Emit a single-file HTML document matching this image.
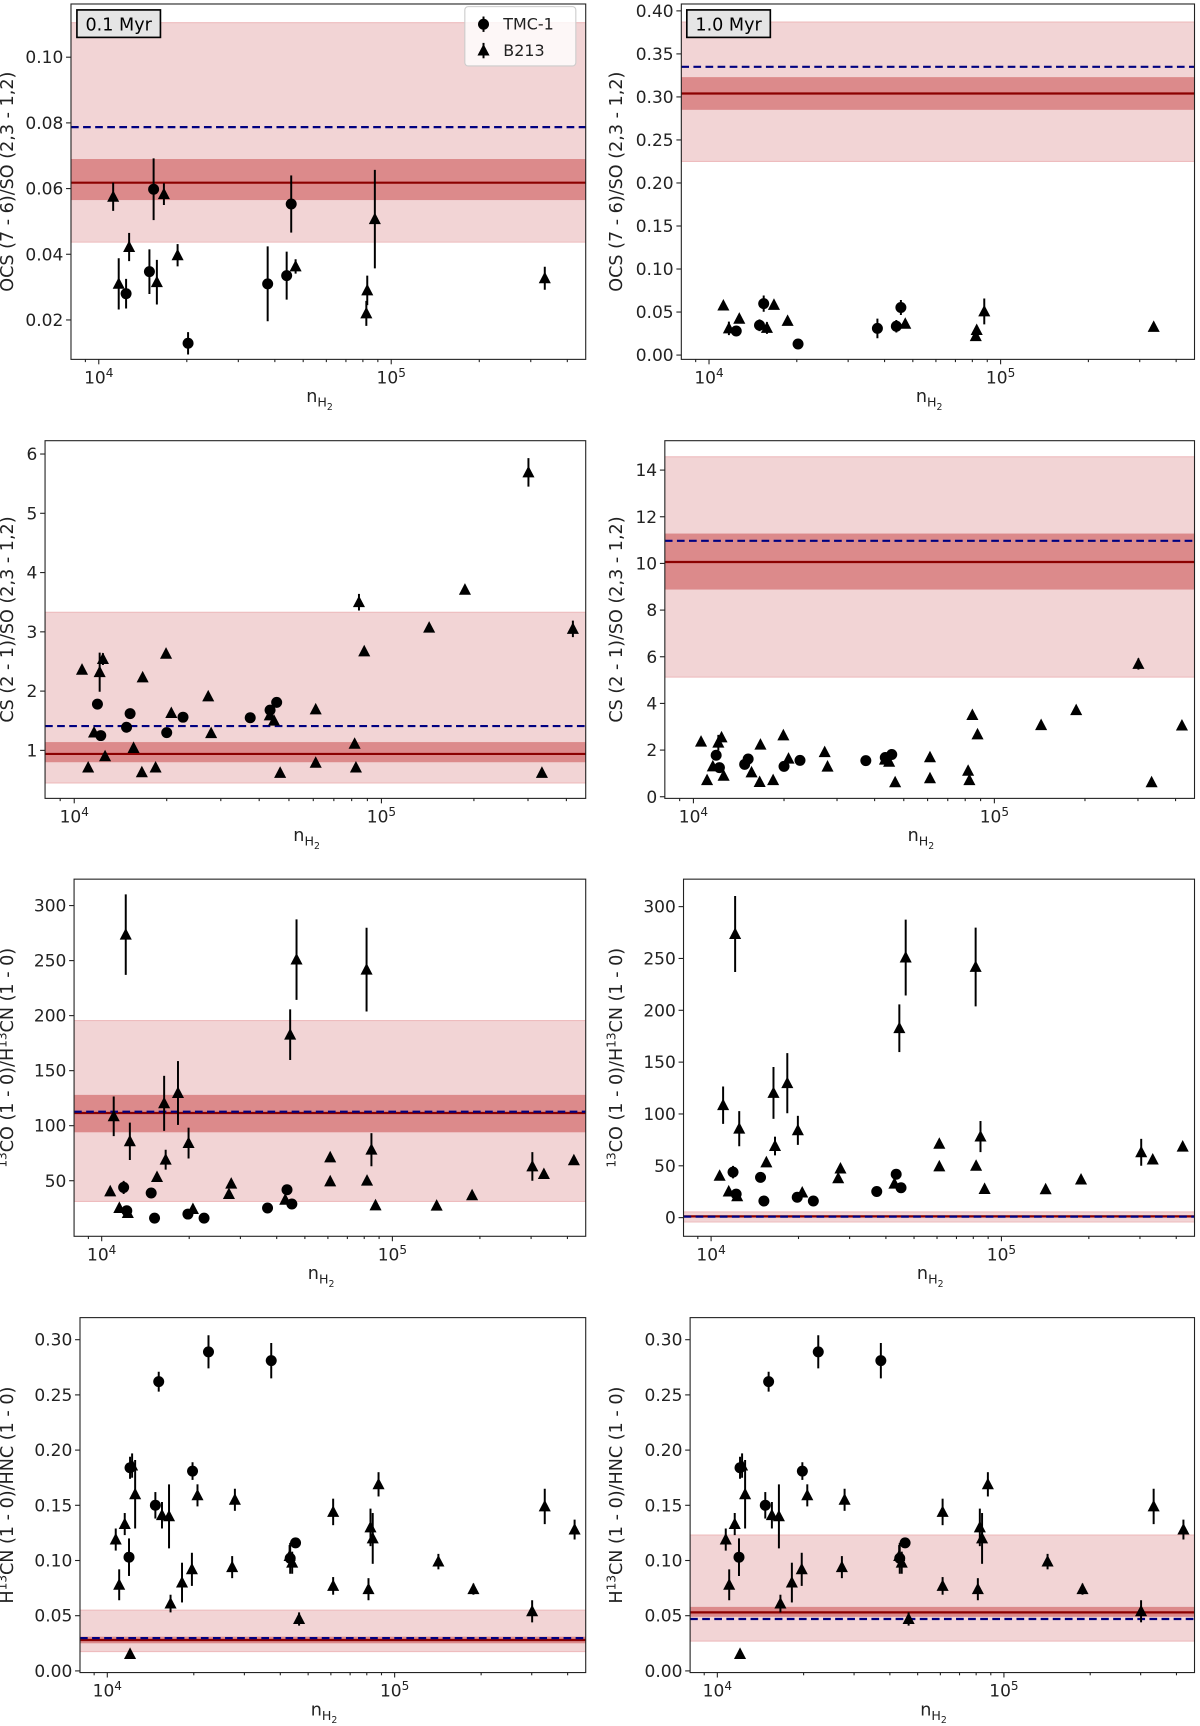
<!DOCTYPE html>
<html><head><meta charset="utf-8"><title>Ratios vs density</title>
<style>
html,body{margin:0;padding:0;background:#fff;}
svg{display:block;font-family:"DejaVu Sans","Liberation Sans",sans-serif;}
</style></head>
<body>
<svg id="fig" xmlns="http://www.w3.org/2000/svg" width="1200" height="1726" viewBox="0 0 1092 1570.6"></svg>
<script>
// ---------- data (row 1: OCS/SO) ----------
const nH2_r1 = [1.12e4,1.17e4,1.24e4,1.27e4,1.49e4,1.54e4,1.58e4,1.67e4,1.86e4,2.02e4,3.78e4,4.39e4,4.71e4,4.55e4,8.28e4,8.22e4,8.79e4,3.35e5];
const ratio_r1 = [0.0575,0.031,0.028,0.0422,0.0347,0.0598,0.0315,0.0583,0.0397,0.0129,0.031,0.0335,0.0363,0.0553,0.029,0.022,0.0507,0.0327];
const err_r1 = [0.0043,0.0078,0.0045,0.0043,0.0068,0.0094,0.0068,0.0033,0.0034,0.0034,0.0114,0.0073,0.0022,0.0087,0.0045,0.0038,0.015,0.0035];
const src_r1 = ["T","T","C","T","C","C","T","T","T","C","C","C","T","C","T","T","T","T"];
// ---------- row 2: CS/SO ----------
const nH2_r2 = [1.06e4,1.11e4,1.16e4,1.19e4,1.21e4,1.24e4,1.22e4,1.26e4,1.48e4,1.52e4,1.56e4,1.66e4,1.67e4,1.84e4,1.99e4,2.00e4,2.07e4,2.26e4,2.73e4,2.79e4,3.74e4,4.34e4,4.33e4,4.47e4,4.56e4,4.68e4,6.11e4,6.11e4,8.18e4,8.26e4,8.45e4,8.79e4,1.43e5,1.87e5,3.01e5,3.33e5,4.20e5];
const ratio_r2 = [2.36,0.71,1.30,1.78,2.32,2.54,1.25,0.90,1.39,1.62,1.04,0.63,2.23,0.71,2.63,1.30,1.63,1.56,1.91,1.29,1.55,1.68,1.59,1.50,1.81,0.62,1.69,0.79,1.11,0.71,3.50,2.67,3.07,3.71,5.69,0.62,3.05];
const err_r2 = [0.05,0.05,0.05,0.05,0.33,0.1,0.05,0.05,0.05,0.05,0.05,0.05,0.05,0.05,0.05,0.05,0.05,0.05,0.05,0.05,0.05,0.05,0.05,0.05,0.05,0.05,0.05,0.05,0.05,0.05,0.14,0.05,0.05,0.08,0.24,0.05,0.14];
const src_r2 = ["T","T","T","C","T","T","C","T","C","C","T","T","T","T","T","C","T","C","T","T","C","C","T","T","C","T","T","T","T","T","T","T","T","T","T","T","T"];
// ---------- row 3: 13CO/H13CN ----------
const nH2_r3 = [1.21e4,1.07e4,1.19e4,1.10e4,1.25e4,1.15e4,1.22e4,1.23e4,1.48e4,1.52e4,1.55e4,1.66e4,1.64e4,1.83e4,1.99e4,1.98e4,2.06e4,2.25e4,2.79e4,2.74e4,3.72e4,4.34e4,4.28e4,4.51e4,4.45e4,4.68e4,6.11e4,6.11e4,8.15e4,8.18e4,8.47e4,8.75e4,1.42e5,1.88e5,3.03e5,3.32e5,4.21e5];
const ratio_r3 = [273.6,40.3,43.9,108.5,85.8,25.2,22.7,20.6,38.8,16,53.3,69.1,120.3,129.7,84.2,19.7,24.2,16,47.3,37.9,25.2,41.8,32.7,28.8,182.7,250.9,71.2,49.4,241.8,50,78.2,27.6,27.3,36.7,63,56,68.5];
const err_r3 = [36.6,2,6,18,17,2,2,2,2,2,2,9,25,29,14,2,2,2,2,2,2,3,2,2,23,36.6,2,2,38,4,15,2,2,2,13,2,2];
const src_r3 = ["T","T","C","T","T","T","C","T","C","C","T","T","T","T","T","C","T","C","T","T","C","C","T","C","T","T","T","T","T","T","T","T","T","T","T","T","T"];
// ---------- row 4: H13CN/HNC ----------
const nH2_r4 = [1.07e4,1.15e4,1.19e4,1.10e4,1.20e4,1.22e4,1.25e4,1.20e4,1.51e4,1.47e4,1.55e4,1.64e4,1.66e4,1.82e4,1.97e4,1.98e4,2.06e4,2.25e4,2.78e4,2.72e4,3.72e4,4.52e4,4.33e4,4.40e4,4.31e4,4.65e4,6.11e4,6.11e4,8.11e4,8.24e4,8.39e4,8.79e4,1.42e5,1.88e5,3.01e5,3.33e5,4.23e5];
const ratio_r4 = [0.119,0.133,0.103,0.078,0.184,0.186,0.160,0.0153,0.262,0.150,0.141,0.140,0.061,0.080,0.092,0.181,0.159,0.289,0.155,0.094,0.281,0.116,0.102,0.098,0.104,0.047,0.144,0.077,0.074,0.130,0.120,0.169,0.099,0.074,0.054,0.149,0.128];
const err_r4 = [0.01,0.01,0.017,0.014,0.01,0.011,0.031,0.002,0.009,0.012,0.012,0.029,0.008,0.018,0.015,0.008,0.01,0.015,0.01,0.01,0.016,0.003,0.014,0.01,0.01,0.006,0.012,0.008,0.01,0.017,0.023,0.011,0.007,0.005,0.01,0.016,0.009];
const src_r4 = ["T","T","C","T","C","T","T","T","C","C","T","T","T","T","T","C","T","C","T","T","C","C","C","T","T","T","T","T","T","T","T","T","T","T","T","T","T"];
// ---------- model values per panel (P1..P8) ----------
const modelMean = [0.0618,0.304,0.94,10.06,111.5,1.2,0.028,0.053];
const modelDashed = [0.0787,0.335,1.41,10.97,112.7,1.0,0.0297,0.047];
const darkLo = [0.0565,0.285,0.80,8.88,94,0.3,0.025,0.049];
const darkHi = [0.069,0.323,1.14,11.28,128,2.2,0.031,0.058];
const lightLo = [0.0437,0.225,0.45,5.13,31.2,-4.2,0.0175,0.027];
const lightHi = [0.1105,0.387,3.33,14.57,195.5,5.5,0.055,0.123];
// ---------- tick labels ----------
const yTicks = [
 [0.02,0.04,0.06,0.08,0.10],
 [0.00,0.05,0.10,0.15,0.20,0.25,0.30,0.35,0.40],
 [1,2,3,4,5,6],
 [0,2,4,6,8,10,12,14],
 [50,100,150,200,250,300],
 [0,50,100,150,200,250,300],
 [0.00,0.05,0.10,0.15,0.20,0.25,0.30],
 [0.00,0.05,0.10,0.15,0.20,0.25,0.30]
];
const yDecimals = [2,2,0,0,0,0,2,2];
const xMajorExp = [4,5];

// ---------- layout ----------
const NS="http://www.w3.org/2000/svg";
const svg=document.getElementById('fig');
const XLIM=[3.905,5.665];
const panels=[
 {L:64.6,R:533,T:3.6,B:327,y0:0.008,y1:0.1162,row:0},
 {L:620,R:1087,T:3.6,B:327,y0:-0.005,y1:0.408,row:0},
 {L:41,R:533,T:401,B:726.5,y0:0.19,y1:6.225,row:1},
 {L:605,R:1087,T:401,B:726.5,y0:-0.07,y1:15.26,row:1},
 {L:67.4,R:533,T:800,B:1125,y0:-0.5,y1:324,row:2},
 {L:622,R:1087,T:800,B:1125,y0:-18,y1:326.5,row:2},
 {L:72.8,R:533,T:1199,B:1522,y0:-0.0015,y1:0.320,row:3},
 {L:628,R:1087,T:1199,B:1522,y0:-0.0015,y1:0.320,row:3}
];
const rows=[
 {n:nH2_r1,v:ratio_r1,e:err_r1,s:src_r1},
 {n:nH2_r2,v:ratio_r2,e:err_r2,s:src_r2},
 {n:nH2_r3,v:ratio_r3,e:err_r3,s:src_r3},
 {n:nH2_r4,v:ratio_r4,e:err_r4,s:src_r4}
];
const yTitles=[
 [{t:"OCS (7 - 6)/SO (2,3 - 1,2)"}],
 [{t:"CS (2 - 1)/SO (2,3 - 1,2)"}],
 [{t:"13",sup:1},{t:"CO (1 - 0)/H"},{t:"13",sup:1},{t:"CN (1 - 0)"}],
 [{t:"H"},{t:"13",sup:1},{t:"CN (1 - 0)/HNC (1 - 0)"}]
];
function mk(tag,attrs,parent){const el=document.createElementNS(NS,tag);for(const k in attrs)el.setAttribute(k,attrs[k]);(parent||svg).appendChild(el);return el;}
function xs(p,n){return p.L+(Math.log10(n)-XLIM[0])/(XLIM[1]-XLIM[0])*(p.R-p.L);}
function ys(p,v){return p.B-(v-p.y0)/(p.y1-p.y0)*(p.B-p.T);}

panels.forEach((p,i)=>{
  const g=mk('g',{});
  
  
  const cid='clip'+i;
  const cp=mk('clipPath',{id:cid},g);
  mk('rect',{x:p.L,y:p.T,width:p.R-p.L,height:p.B-p.T},cp);
  const plot=mk('g',{'clip-path':'url(#'+cid+')'},g);
  const lb=mk('rect',{x:p.L,y:ys(p,lightHi[i]),width:p.R-p.L,height:ys(p,lightLo[i])-ys(p,lightHi[i]),fill:'#f2d4d5'},plot);
  
  
  mk('line',{x1:p.L,x2:p.R,y1:ys(p,lightHi[i]),y2:ys(p,lightHi[i]),stroke:'#eebcbe','stroke-width':1},plot);
  mk('line',{x1:p.L,x2:p.R,y1:ys(p,lightLo[i]),y2:ys(p,lightLo[i]),stroke:'#eebcbe','stroke-width':1},plot);
  const db=mk('rect',{x:p.L,y:ys(p,darkHi[i]),width:p.R-p.L,height:ys(p,darkLo[i])-ys(p,darkHi[i]),fill:'#dc8a8b'},plot);
  
  
  const ml=mk('line',{x1:p.L,x2:p.R,y1:ys(p,modelMean[i]),y2:ys(p,modelMean[i]),stroke:'#8b0000','stroke-width':2},plot);
  
  
  const dl=mk('line',{x1:p.L,x2:p.R,y1:ys(p,modelDashed[i]),y2:ys(p,modelDashed[i]),stroke:'#000080','stroke-width':2,'stroke-dasharray':'7,4'},plot);
  
  
  const d=rows[p.row];
  d.n.forEach((n,k)=>{
    const x=xs(p,n), y=ys(p,d.v[k]);
    const eb=mk('line',{x1:x,x2:x,y1:ys(p,d.v[k]+d.e[k]),y2:ys(p,d.v[k]-d.e[k]),stroke:'#000','stroke-width':1.8},plot);
    
    
    let m;
    if(d.s[k]==='C'){
      m=mk('circle',{cx:x,cy:y,r:5,fill:'#000'},plot);
      
    } else {
      m=mk('polygon',{points:(x-5.5)+','+(y+4.5)+' '+(x+5.5)+','+(y+4.5)+' '+x+','+(y-6),fill:'#000'},plot);
      
    }
    
  });
  const fr=mk('rect',{x:p.L,y:p.T,width:p.R-p.L,height:p.B-p.T,fill:'none',stroke:'#222','stroke-width':1},g);
  
  
  yTicks[i].forEach(v=>{
    const y=ys(p,v);
    mk('line',{x1:p.L-4.5,x2:p.L,y1:y,y2:y,stroke:'#222','stroke-width':1},g);
    const t=mk('text',{x:p.L-7,y:y+5.5,'text-anchor':'end','font-size':15.5,fill:'#222'},g);
    t.textContent=v.toFixed(yDecimals[i]);
    
    
  });
  for(let e=3;e<=5;e++){for(let m=1;m<=9;m++){
    const lv=e+Math.log10(m);
    if(lv<XLIM[0]||lv>XLIM[1])continue;
    const x=xs(p,Math.pow(10,lv));
    mk('line',{x1:x,x2:x,y1:p.B,y2:p.B+(m===1?4.5:2.5),stroke:'#222','stroke-width':1},g);
  }}
  xMajorExp.forEach(e=>{
    const x=xs(p,Math.pow(10,e));
    const t=mk('text',{x:x,y:p.B+22,'text-anchor':'middle','font-size':15.5,fill:'#222'},g);
    
    
    const a=mk('tspan',{},t);a.textContent='10';
    const b=mk('tspan',{dy:-6,'font-size':11},t);b.textContent=String(e);
  });
  const xt=mk('text',{x:(p.L+p.R)/2-8,y:p.B+39,'font-size':16,fill:'#222','text-anchor':'middle'},g);
  
  
  const n1=mk('tspan',{},xt);n1.textContent='n';
  const n2=mk('tspan',{dy:4,'font-size':11.5},xt);n2.textContent='H';
  const n3=mk('tspan',{dy:3,'font-size':8.5},xt);n3.textContent='2';
  const yx=(i%2===0)?12:566;
  const yt=mk('text',{x:0,y:0,'font-size':16,fill:'#222','text-anchor':'middle',transform:'translate('+yx+','+((p.T+p.B)/2)+') rotate(-90)'},g);
  
  
  yTitles[p.row].forEach(s=>{
    const ts=mk('tspan',s.sup?{'font-size':11,dy:-6}:{dy:0},yt);
    ts.textContent=s.t;
    if(s.sup){ts.setAttribute('data-sup','1');}
  });
  const spans=yt.querySelectorAll('tspan');
  spans.forEach((s,k)=>{ if(k>0 && spans[k-1].getAttribute('data-sup') && !s.getAttribute('data-sup')) s.setAttribute('dy',6); });
});

[[70,"0.1 Myr"],[625,"1.0 Myr"]].forEach(a=>{
  const g=mk('g',{});
  
  
  mk('rect',{x:a[0],y:9,width:76,height:25,fill:'#e5e5e5',stroke:'#000','stroke-width':1.5},g);
  const t=mk('text',{x:a[0]+38,y:27.5,'text-anchor':'middle','font-size':16,fill:'#000'},g);
  t.textContent=a[1];
});
const lg=mk('g',{});


mk('rect',{x:423,y:6,width:101,height:54,rx:3,fill:'#fff','fill-opacity':0.8,stroke:'#ccc','stroke-width':1},lg);
mk('circle',{cx:440,cy:22,r:5,fill:'#000'},lg);
mk('line',{x1:440,x2:440,y1:15,y2:29,stroke:'#000','stroke-width':1.8},lg);
const l1=mk('text',{x:458,y:27,'font-size':14.5,fill:'#222'},lg);l1.textContent='TMC-1';


mk('polygon',{points:'434.5,50.5 445.5,50.5 440,40',fill:'#000'},lg);
mk('line',{x1:440,x2:440,y1:39,y2:53,stroke:'#000','stroke-width':1.8},lg);
const l2=mk('text',{x:458,y:51,'font-size':14.5,fill:'#222'},lg);l2.textContent='B213';


</script>
</body></html>
